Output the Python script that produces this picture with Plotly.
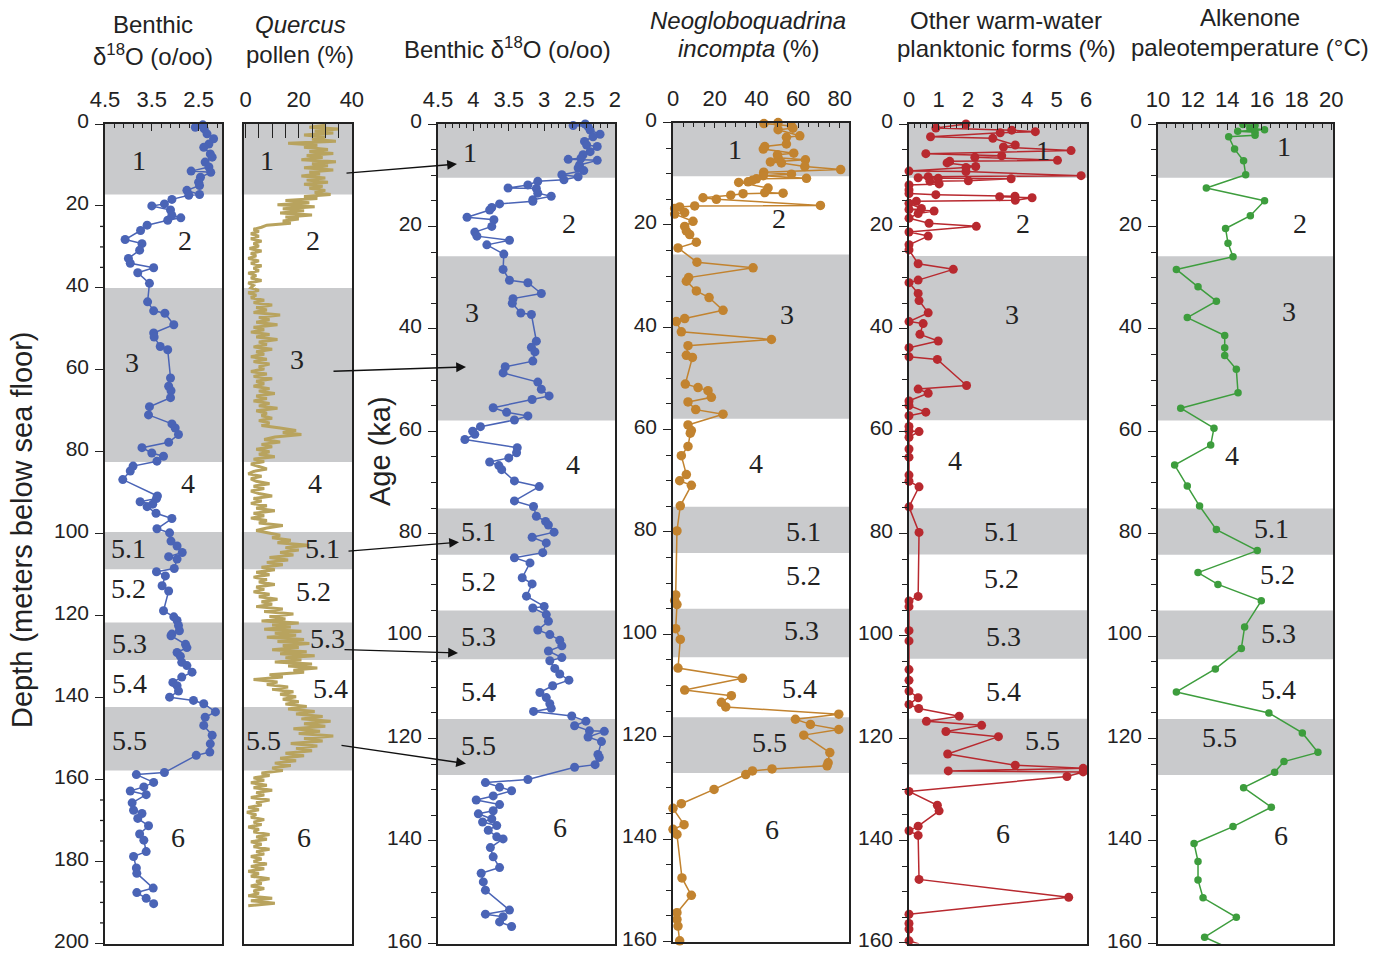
import plotly.graph_objects as go

# ---------------- data ----------------
# Benthic d18O against core depth (m below sea floor)
benthic_depth = [0.2, 0.8, 1.2, 2.4, 3.6, 4.9, 5.7, 7.3, 8.1, 9.3, 10.5, 11.5, 11.8, 13.0, 14.2, 15.0,
                 16.2, 17.2, 17.4, 18.4, 19.5, 20.0, 21.0, 22.3, 22.9, 23.5, 24.7, 26.0, 28.2, 29.2,
                 30.8, 32.8, 34.0, 35.1, 36.3, 38.9, 43.4, 45.6, 46.2, 49.0, 51.0, 52.0, 54.3, 55.1,
                 62.0, 64.0, 65.1, 66.8, 69.0, 71.0, 73.2, 74.2, 75.8, 77.7, 79.0, 80.3, 81.1, 82.3,
                 83.5, 84.7, 86.8, 90.8, 91.4, 92.2, 92.8, 93.4, 95.0, 96.3, 98.8, 99.8, 101.8, 103.0,
                 104.6, 105.6, 106.2, 108.5, 109.3, 110.3, 112.7, 114.0, 118.8, 120.3, 121.2, 122.4,
                 123.7, 124.5, 124.9, 127.0, 127.8, 129.0, 129.9, 131.4, 132.2, 133.8, 135.0, 136.3,
                 137.1, 138.4, 139.9, 140.7, 141.5, 143.5, 144.8, 146.8, 149.2, 151.3, 153.3, 154.1,
                 158.3, 158.8, 160.7, 161.8, 162.8, 163.7, 165.7, 167.5, 168.3, 169.5, 171.3, 173.3,
                 174.8, 177.6, 178.8, 181.6, 182.9, 186.5, 187.6, 189.0, 190.3]
benthic_depth_d18o = [2.41, 2.57, 2.38, 2.32, 2.18, 2.28, 2.39, 2.25, 2.21, 2.36, 2.28, 2.66, 2.24, 2.46,
                      2.50, 2.48, 2.75, 2.48, 2.71, 3.07, 3.23, 3.50, 3.10, 3.07, 2.88, 3.16, 3.60, 3.74,
                      4.07, 3.71, 3.76, 4.00, 3.96, 3.46, 3.80, 3.55, 3.59, 3.46, 3.22, 3.03, 3.46, 3.45,
                      3.32, 3.16, 3.10, 3.14, 3.09, 3.10, 3.55, 3.57, 3.07, 3.00, 2.93, 3.14, 3.71, 3.50,
                      3.25, 3.39, 3.90, 3.96, 4.12, 3.38, 3.40, 3.75, 3.48, 3.60, 3.41, 3.07, 3.39, 3.12,
                      3.09, 2.96, 2.85, 3.14, 2.96, 3.02, 3.40, 3.21, 3.28, 3.14, 3.25, 3.03, 2.96, 2.93,
                      2.91, 3.07, 3.09, 2.78, 2.75, 2.96, 2.89, 2.86, 2.75, 2.64, 2.86, 3.05, 2.96, 2.93,
                      3.12, 2.61, 2.39, 2.14, 2.36, 2.39, 2.21, 2.25, 2.26, 2.55, 3.23, 3.83, 3.46, 3.67,
                      3.96, 3.62, 3.92, 3.89, 3.71, 3.80, 3.57, 3.76, 3.67, 3.62, 3.89, 3.83, 3.82, 3.47,
                      3.82, 3.62, 3.46]

# Quercus pollen (%) against core depth
pollen_depth = [0.3, 0.8, 1.2, 1.7, 2.2, 2.7, 3.2, 3.7, 4.2, 4.7, 5.2, 5.7, 6.2, 6.7, 7.2, 7.7, 8.2, 8.7,
                9.2, 9.7, 10.2, 10.7, 11.2, 11.7, 12.2, 12.7, 13.2, 13.7, 14.2, 14.7, 15.2, 15.7, 16.2,
                16.7, 17.2, 17.7, 18.2, 18.7, 19.2, 19.7, 20.2, 20.7, 21.2, 21.7, 22.2, 22.7, 23.2,
                23.7, 24.2, 24.7, 25.2, 25.7, 26.2, 26.8, 27.4, 28.0, 28.6, 29.2, 29.8, 30.4, 31.0,
                31.6, 32.2, 32.8, 33.4, 34.0, 34.6, 35.2, 35.8, 36.4, 37.0, 37.6, 38.2, 38.8, 39.4,
                40.0, 40.6, 41.2, 41.8, 42.4, 43.0, 43.6, 44.2, 44.8, 45.4, 46.0, 46.6, 47.2, 47.8,
                48.4, 49.0, 49.6, 50.2, 50.8, 51.4, 52.0, 52.6, 53.2, 53.8, 54.4, 55.0, 55.6, 56.2,
                56.8, 57.4, 58.0, 58.6, 59.2, 59.8, 60.4, 61.0, 61.6, 62.2, 62.8, 63.4, 64.0, 64.6,
                65.2, 65.8, 66.4, 67.0, 67.6, 68.2, 68.8, 69.4, 70.0, 70.6, 71.2, 71.8, 72.4, 73.0,
                73.6, 74.2, 74.8, 75.3, 75.8, 76.4, 77.0, 77.6, 78.2, 78.8, 79.4, 80.0, 80.6, 81.2,
                81.8, 82.4, 83.0, 83.6, 84.2, 84.8, 85.4, 86.0, 86.6, 87.2, 87.8, 88.4, 89.0, 89.6,
                90.2, 90.8, 91.4, 92.0, 92.6, 93.2, 93.8, 94.4, 95.0, 95.6, 96.2, 96.8, 97.4, 98.0,
                98.6, 99.2, 99.8, 100.4, 101.0, 101.6, 102.2, 102.8, 103.4, 104.0, 104.6, 105.2,
                105.8, 106.4, 107.0, 107.6, 108.2, 108.8, 109.4, 110.0, 110.6, 111.2, 111.8, 112.4,
                113.0, 113.6, 114.2, 114.8, 115.4, 116.0, 116.6, 117.2, 117.8, 118.4, 119.0, 119.6,
                120.2, 120.8, 121.3, 121.8, 122.3, 122.8, 123.3, 123.8, 124.3, 124.8, 125.3, 125.8,
                126.3, 126.8, 127.3, 127.8, 128.3, 128.8, 129.3, 129.8, 130.3, 130.8, 131.3, 131.8,
                132.3, 132.8, 133.3, 133.8, 134.4, 135.0, 135.6, 136.2, 136.8, 137.4, 138.0, 138.6,
                139.2, 139.8, 140.4, 141.0, 141.6, 142.2, 142.8, 143.4, 144.0, 144.6, 145.2, 145.8,
                146.4, 147.0, 147.6, 148.2, 148.8, 149.4, 150.0, 150.6, 151.2, 151.8, 152.4, 153.0,
                153.6, 154.2, 154.8, 155.4, 156.0, 156.6, 157.2, 157.8, 158.4, 159.0, 159.6, 160.2,
                160.8, 161.4, 162.0, 162.6, 163.2, 163.8, 164.4, 165.0, 165.6, 166.2, 166.8, 167.4,
                168.0, 168.6, 169.2, 169.8, 170.4, 171.0, 171.6, 172.2, 172.8, 173.4, 174.0, 174.6,
                175.2, 175.8, 176.4, 177.0, 177.6, 178.2, 178.8, 179.4, 180.0, 180.6, 181.2, 181.8,
                182.4, 183.0, 183.6, 184.2, 184.8, 185.4, 186.0, 186.6, 187.2, 187.8, 188.4, 189.0,
                189.6, 190.2, 190.8]
pollen_pct = [30, 24, 35, 26, 33, 22, 30, 25, 34, 16, 27, 22, 31, 24, 33, 23, 29, 21,
              34, 25, 31, 22, 33, 24, 28, 21, 30, 23, 31, 22, 29, 24, 30,
              26, 32, 22, 27, 15, 24, 12, 26, 14, 22, 13, 25, 15, 20,
              14, 17, 8, 6, 3, 5, 2, 5, 2, 6, 3, 5, 1.5, 6,
              2, 4, 1, 5, 2, 6, 3, 5, 1, 4, 2, 6, 1, 3,
              2, 5, 1, 4, 2, 7, 3, 10, 4, 8, 3, 13, 5, 9,
              4, 12, 3, 7, 2, 9, 4, 12, 5, 8, 3, 10, 4, 7,
              2, 8, 3, 9, 5, 7, 2, 8, 3, 10, 4, 7, 3, 9,
              5, 11, 4, 8, 3, 9, 5, 12, 4, 8, 6, 10, 5, 9,
              6, 13, 19, 14, 21, 11, 7, 13, 6, 10, 4, 9, 5, 11,
              3, 7, 2, 5, 8, 3, 1, 6, 2, 4, 9, 3, 7, 2,
              5, 10, 3, 6, 2, 8, 4, 11, 3, 7, 2, 8, 5, 14,
              8, 4, 9, 13, 10, 17, 12, 24, 15, 20, 13, 18,
              9, 16, 8, 14, 6, 11, 4, 9, 3, 8, 5, 11,
              4, 7, 3, 9, 5, 12, 6, 10, 4, 14, 7, 18,
              9, 15, 6, 20, 10, 17, 7, 21, 11, 19, 8, 22,
              12, 24, 14, 20, 10, 23, 13, 26, 15, 21, 11, 25,
              16, 27, 18, 22, 9, 14, 3, 12, 8, 16, 10, 18,
              13, 19, 14, 20, 15, 23, 16, 26, 19, 29, 21, 32,
              22, 30, 18, 28, 20, 33, 22, 29, 17, 27, 19, 25,
              15, 22, 13, 19, 11, 17, 10, 14, 6, 9, 3, 7,
              2, 8, 3, 10, 4, 7, 2, 9, 4, 6, 1, 5,
              0.5, 4, 2, 7, 3, 6, 1, 5, 3, 9, 4, 8,
              2, 6, 3, 9, 4, 7, 2, 6, 3, 8, 2, 7,
              1, 5, 2, 9, 4, 6, 2, 7, 3, 5, 1, 10,
              2, 11, 1]

# Benthic d18O against age (ka)
benthic_age = [0.0, 0.3, 0.5, 1.2, 2.0, 2.5, 3.4, 4.1, 4.4, 5.4, 6.0, 6.7, 6.9, 7.1, 8.0, 8.6, 9.1, 9.9,
               10.3, 10.9, 11.2, 11.9, 12.5, 12.6, 13.5, 14.1, 14.8, 15.1, 15.6, 16.3, 16.8, 18.2,
               18.7, 20.0, 21.1, 21.9, 22.7, 23.6, 25.4, 28.4, 30.5, 31.0, 33.1, 34.1, 35.0, 36.9,
               37.2, 42.4, 43.6, 44.5, 46.3, 47.4, 48.6, 50.4, 51.8, 53.1, 53.8, 55.4, 56.3, 57.0,
               57.8, 59.1, 60.0, 60.6, 61.6, 63.2, 64.2, 65.2, 66.0, 66.7, 67.5, 69.7, 70.8, 73.6,
               74.7, 76.6, 77.6, 78.3, 79.7, 80.7, 81.8, 83.7, 84.7, 85.7, 88.6, 89.8, 92.2, 94.2,
               94.5, 95.8, 97.1, 98.8, 99.7, 100.8, 101.9, 102.9, 104.2, 104.8, 106.3, 107.4, 108.6,
               109.7, 111.0, 112.0, 113.2, 114.1, 114.7, 115.6, 116.6, 117.5, 118.5, 118.6, 119.7,
               120.6, 123.1, 123.7, 125.1, 125.6, 128.0, 128.6, 129.5, 130.2, 131.2, 132.0, 132.9,
               134.1, 134.7, 135.7, 136.3, 137.0, 137.9, 139.2, 139.6, 141.3, 143.1, 145.2, 146.3,
               148.0, 149.6, 153.5, 154.3, 154.8, 155.8, 156.7]
benthic_age_d18o = [2.42, 2.59, 2.38, 2.35, 2.21, 2.31, 2.43, 2.40, 2.25, 2.35, 2.45, 2.48, 2.66, 2.25,
                    2.50, 2.52, 2.44, 2.75, 2.52, 2.72, 3.09, 3.23, 3.51, 3.11, 3.09, 2.90, 3.16, 3.16,
                    3.63, 3.74, 3.77, 4.09, 3.71, 3.74, 3.98, 3.95, 3.49, 3.81, 3.57, 3.58, 3.49, 3.23,
                    3.04, 3.44, 3.45, 3.33, 3.18, 3.11, 3.18, 3.13, 3.16, 3.55, 3.58, 3.09, 3.04, 2.93,
                    3.17, 3.72, 3.53, 3.23, 3.42, 3.90, 4.01, 3.98, 4.12, 3.38, 3.39, 3.50, 3.77, 3.64,
                    3.60, 3.42, 3.07, 3.42, 3.15, 3.11, 2.98, 2.94, 2.86, 3.17, 2.97, 3.02, 3.42, 3.20,
                    3.31, 3.17, 3.25, 3.00, 3.16, 2.97, 2.94, 3.09, 2.92, 2.78, 2.75, 2.94, 2.75, 2.92,
                    2.85, 2.78, 2.65, 2.88, 3.06, 2.97, 2.92, 2.90, 3.15, 2.61, 2.41, 2.57, 2.36, 2.15,
                    2.38, 2.19, 2.24, 2.22, 2.28, 2.57, 3.23, 3.83, 3.63, 3.46, 3.72, 3.96, 3.63, 3.72,
                    3.93, 3.74, 3.87, 3.67, 3.79, 3.67, 3.58, 3.76, 3.72, 3.63, 3.89, 3.86, 3.83, 3.49,
                    3.83, 3.58, 3.63, 3.46]

# Neogloboquadrina incompta (%) against age
incompta_age = [0.0, 0.2, 0.7, 1.1, 1.4, 2.6, 2.9, 4.2, 4.7, 5.2, 6.0, 6.3, 6.9, 7.3, 7.7, 7.9, 8.6, 9.2,
                9.7, 10.1, 10.4, 10.9, 11.0, 11.3, 11.6, 11.7, 12.8, 13.7, 13.8, 13.9, 14.2, 14.7,
                15.0, 16.2, 16.3, 16.5, 16.8, 17.6, 17.9, 19.3, 20.3, 21.2, 21.9, 23.4, 24.5, 27.3,
                28.4, 30.3, 31.0, 32.9, 34.2, 36.7, 38.3, 38.9, 40.9, 42.4, 43.6, 45.5, 45.9, 51.1,
                51.8, 52.4, 53.7, 54.6, 56.1, 57.0, 59.1, 60.2, 60.7, 63.3, 65.1, 68.8, 70.0, 70.9,
                74.9, 79.8, 92.3, 93.4, 94.2, 98.9, 101.0, 106.6, 108.6, 110.9, 112.0, 113.3, 114.2,
                115.6, 116.6, 117.6, 118.6, 119.7, 123.1, 125.1, 125.7, 126.3, 126.7, 127.4, 130.3,
                133.1, 134.0, 137.2, 138.1, 139.1, 147.6, 151.0, 154.4, 155.7, 157.0, 159.9]
incompta_pct = [50.4, 43.6, 56.8, 57.5, 50.4, 60.8, 54.4, 54.4, 44.0, 43.3, 57.9, 50.1, 50.4, 63.5,
                46.7, 52.0, 63.2, 80.4, 43.5, 56.8, 43.3, 64.0, 40.0, 38.1, 36.0, 31.5, 45.6, 44.0,
                52.8, 33.6, 27.7, 14.4, 20.8, 70.7, 10.4, 3.2, 0.8, 5.6, 0.8, 9.6, 5.6, 6.4, 8.0,
                11.2, 2.4, 11.5, 38.4, 7.5, 6.4, 11.2, 17.3, 24.0, 5.6, 1.6, 4.0, 47.2, 7.2, 6.4,
                9.3, 5.9, 12.0, 16.8, 18.4, 7.2, 10.9, 24.0, 7.2, 8.8, 8.3, 7.2, 4.0, 6.4, 3.2, 8.8,
                3.5, 1.9, 1.3, 0.8, 1.9, 1.3, 3.5, 2.4, 33.3, 5.6, 28.0, 23.2, 25.3, 79.5, 58.7,
                65.9, 79.5, 62.7, 75.2, 74.4, 73.9, 47.5, 38.1, 34.9, 19.7, 4.0, 0.0, 5.3, 0.0, 1.9,
                4.3, 8.8, 1.9, 1.9, 2.4, 3.2]

# Other warm-water planktonic forms (%) against age
warm_age = [0.0, 0.8, 1.2, 1.5, 1.7, 2.5, 2.8, 4.1, 4.5, 5.2, 5.8, 6.2, 6.5, 7.1, 7.3, 7.6, 8.3, 8.5,
            9.2, 9.3, 10.1, 10.3, 10.5, 10.6, 10.7, 11.1, 11.2, 11.7, 11.9, 12.9, 13.6, 13.8, 14.1,
            14.2, 14.4, 14.9, 15.1, 15.5, 16.5, 16.7, 17.0, 17.5, 18.4, 19.4, 20.0, 21.1, 21.9, 23.6,
            24.6, 27.3, 28.4, 30.5, 31.0, 33.1, 34.5, 36.9, 38.6, 39.0, 41.1, 42.4, 43.7, 45.5, 46.0,
            51.1, 51.8, 52.6, 54.1, 55.0, 56.3, 57.0, 59.1, 60.0, 60.1, 61.2, 63.5, 65.1, 68.6, 69.8,
            70.9, 74.8, 79.8, 92.3, 93.2, 94.3, 99.0, 101.0, 106.6, 108.7, 110.8, 112.1, 113.4,
            114.2, 115.7, 116.7, 117.5, 118.7, 119.7, 123.1, 125.3, 125.9, 126.4, 126.6, 127.5,
            130.4, 133.1, 134.2, 137.2, 138.1, 139.0, 147.6, 151.1, 154.4, 156.2, 157.3, 159.6, 160.2]
warm_pct = [1.93, 0.91, 3.48, 4.28, 3.09, 0.73, 2.84, 3.60, 3.20, 5.49, 0.57, 3.14, 2.23, 5.03, 1.38,
            1.29, 2.26, 1.93, 0.0, 1.93, 5.83, 0.65, 0.31, 0.99, 3.46, 2.01, 0.71, 1.02, 0.0, 0.0, 0.0,
            0.91, 3.59, 3.07, 4.17, 3.60, 0.25, 0.0, 0.42, 0.0, 0.85, 0.31, 0.0, 0.68, 2.28, 0.0, 0.65,
            0.0, 0.0, 0.31, 1.50, 0.31, 0.0, 0.31, 0.34, 0.65, 0.0, 0.48, 0.37, 0.99, 0.0, 0.0, 0.96,
            1.95, 0.31, 0.65, 0.0, 0.0, 0.57, 0.0, 0.0, 0.0, 0.34, 0.0, 0.0, 0.0, 0.0, 0.0, 0.34, 0.0,
            0.34, 0.31, 0.0, 0.0, 0.0, 0.0, 0.0, 0.0, 0.0, 0.31, 0.0, 0.33, 1.70, 0.59, 2.46, 1.25,
            3.03, 1.31, 3.60, 5.90, 1.33, 5.90, 5.35, 0.0, 0.96, 1.02, 0.31, 0.0, 0.31, 0.34, 5.41,
            0.0, 0.0, 0.0, 0.0, 0.34]

# Alkenone sea-surface paleotemperature (deg C) against age
alkenone_age = [0.1, 0.3, 0.8, 1.1, 1.4, 1.6, 2.2, 2.5, 4.9, 7.2, 9.9, 12.5, 15.0, 17.9, 20.4, 23.3,
                25.9, 28.4, 31.8, 34.6, 37.8, 41.3, 43.7, 45.2, 47.9, 52.5, 55.5, 59.4, 62.7, 66.6,
                70.7, 74.6, 79.2, 83.3, 87.6, 89.9, 93.1, 98.2, 102.4, 106.4, 110.9, 115.0, 118.9,
                122.7, 124.5, 126.6, 129.6, 133.4, 137.2, 140.5, 144.0, 147.6, 151.1, 154.9, 158.8,
                162.0]
alkenone_temp = [14.9, 15.6, 15.3, 16.15, 14.6, 15.6, 15.6, 14.08, 14.42, 14.94, 15.06, 12.79, 16.15,
                 15.33, 13.9, 14.04, 14.33, 11.06, 12.31, 13.37, 11.69, 13.85, 13.85, 13.85, 14.52,
                 14.62, 11.31, 13.23, 13.04, 10.96, 11.69, 12.4, 13.37, 15.73, 12.31, 13.46, 15.96,
                 15.0, 14.81, 13.31, 11.06, 16.4, 18.33, 19.23, 17.27, 16.73, 14.94, 16.54, 14.33,
                 12.08, 12.31, 12.31, 12.6, 14.52, 12.69, 14.8]

# Marine isotope stages and their shaded (odd / warm) intervals
stage_names = ["1", "2", "3", "4", "5.1", "5.2", "5.3", "5.4", "5.5", "6"]
depth_band_top = [0.0, 40.0, 99.6, 121.7, 142.3]
depth_band_bottom = [17.2, 82.5, 108.7, 130.8, 157.8]
age_band_top = [0.0, 25.8, 75.1, 95.0, 116.2]
age_band_bottom = [10.5, 57.9, 84.1, 104.5, 127.1]

# Depth-to-age tie points shown as arrows
tie_depth = [12.0, 60.3, 104.2, 128.2, 151.5]
tie_age = [7.8, 47.4, 81.6, 103.2, 124.8]

# ---------------- layout helpers ----------------
W, H = 1387, 954
SANS = "Liberation Sans, Arial, Helvetica, sans-serif"
SERIF = "Liberation Serif, Times New Roman, serif"
INK = "#222222"
BAND = "#c9cacc"

# panel boxes in pixels: left, right, top, bottom
boxes = {
    1: (105, 222, 124, 944),
    2: (244, 352, 124, 944),
    3: (438, 615, 124, 944),
    4: (673, 849, 122.5, 942),
    5: (909, 1087, 124, 943.5),
    6: (1158, 1333, 124, 944),
}


def xdom(i):
    l, r, t, b = boxes[i]
    return [l / W, r / W]


def ydom(i):
    l, r, t, b = boxes[i]
    return [1 - b / H, 1 - t / H]


fig = go.Figure()

blue = "#4a64b6"
tan = "#b8a35e"
orange = "#c2832f"
red = "#b8292f"
green = "#3d9d3d"

fig.add_trace(go.Scatter(x=benthic_depth_d18o, y=benthic_depth, xaxis="x", yaxis="y",
                         mode="lines+markers", line=dict(color=blue, width=1.5),
                         marker=dict(color=blue, size=9), cliponaxis=False))
fig.add_trace(go.Scatter(x=pollen_pct, y=pollen_depth, xaxis="x2", yaxis="y2",
                         mode="lines", line=dict(color=tan, width=3.0), cliponaxis=False))
fig.add_trace(go.Scatter(x=benthic_age_d18o, y=benthic_age, xaxis="x3", yaxis="y3",
                         mode="lines+markers", line=dict(color=blue, width=1.5),
                         marker=dict(color=blue, size=9), cliponaxis=False))
fig.add_trace(go.Scatter(x=incompta_pct, y=incompta_age, xaxis="x4", yaxis="y4",
                         mode="lines+markers", line=dict(color=orange, width=1.5),
                         marker=dict(color=orange, size=9.5), cliponaxis=False))
fig.add_trace(go.Scatter(x=warm_pct, y=warm_age, xaxis="x5", yaxis="y5",
                         mode="lines+markers", line=dict(color=red, width=1.5),
                         marker=dict(color=red, size=9), cliponaxis=False))
fig.add_trace(go.Scatter(x=alkenone_temp, y=alkenone_age, xaxis="x6", yaxis="y6",
                         mode="lines+markers", line=dict(color=green, width=1.5),
                         marker=dict(color=green, size=7.5), cliponaxis=True))

common_axis = dict(showline=True, mirror=True, linecolor=INK, linewidth=1.6, showgrid=False,
                   zeroline=False, automargin=False, ticklabeloverflow="allow",
                   tickfont=dict(family=SANS, size=21, color=INK), tickcolor=INK)

x_specs = {
    1: dict(range=[4.5, 2.0], tick0=4.5, dtick=1, ticklen=7,
            minor=dict(tick0=4.5, dtick=0.2, ticks="inside", ticklen=4, tickcolor=INK)),
    2: dict(range=[-0.6, 40.05], tick0=0, dtick=20, ticklen=14,
            minor=dict(tick0=0, dtick=5, ticks="inside", ticklen=14, tickcolor=INK)),
    3: dict(range=[4.5, 1.999], tick0=4.5, dtick=0.5, ticklen=7,
            minor=dict(tick0=4.5, dtick=0.1, ticks="inside", ticklen=4, tickcolor=INK)),
    4: dict(range=[0, 84.4], tick0=0, dtick=20, ticklen=6,
            minor=dict(tick0=0, dtick=5, ticks="inside", ticklen=5, tickcolor=INK)),
    5: dict(range=[0, 6.03], tick0=0, dtick=1, ticklen=6,
            minor=dict(tick0=0, dtick=0.2, ticks="inside", ticklen=4, tickcolor=INK)),
    6: dict(range=[10, 20.1], tick0=10, dtick=2, ticklen=6,
            minor=dict(tick0=10, dtick=0.5, ticks="inside", ticklen=4, tickcolor=INK)),
}

layout_axes = {}
for i in range(1, 7):
    xs = dict(common_axis)
    xs.update(x_specs[i])
    xs.update(domain=xdom(i), anchor=f"y{i}", side="top", ticks="inside",
              ticklabelstandoff=6, tickfont=dict(family=SANS, size=22, color=INK))
    ys = dict(common_axis)
    yr = [200.15, 0] if i <= 2 else [160.12, 0]
    ys.update(domain=ydom(i), anchor=f"x{i}", range=yr, tick0=0, dtick=20,
              ticks="outside", ticklen=8, ticklabelstandoff=2, ticklabelshift=3)
    if i >= 3:
        ys.update(minor=dict(dtick=5, ticks="outside", ticklen=5, tickcolor=INK))
    if i == 2:
        ys.update(ticks="", showticklabels=False)
    key = "" if i == 1 else str(i)
    layout_axes[f"xaxis{key}"] = xs
    layout_axes[f"yaxis{key}"] = ys

fig.update_layout(width=W, height=H, margin=dict(l=0, r=0, t=0, b=0, autoexpand=False),
                  paper_bgcolor="white", plot_bgcolor="white", showlegend=False,
                  **layout_axes)

# shaded stage intervals
shapes = []
for i in range(1, 7):
    xr = "x domain" if i == 1 else f"x{i} domain"
    yr = "y" if i == 1 else f"y{i}"
    tops, bots = (depth_band_top, depth_band_bottom) if i <= 2 else (age_band_top, age_band_bottom)
    x0 = -0.02 if i == 2 else 0.0
    for t, b in zip(tops, bots):
        shapes.append(dict(type="rect", xref=xr, yref=yr, x0=x0, x1=1, y0=t, y1=b,
                           fillcolor=BAND, line=dict(width=0), layer="below"))

# short depth ticks drawn only on part of the depth scale
for d in [25, 30, 35, 165, 170, 175, 185, 190, 195]:
    shapes.append(dict(type="line", xref="x domain", yref="y", x0=-5 / 117, x1=0, y0=d, y1=d,
                       line=dict(color=INK, width=1.3)))
fig.update_layout(shapes=shapes)

annotations = []

# stage labels: (x fraction of panel width, vertical position in panel units)
stage_pos = {
    1: [(0.29, 8.8), (0.68, 28.5), (0.23, 58.2), (0.71, 87.8), (0.20, 103.6), (0.20, 113.4),
        (0.21, 126.8), (0.21, 136.5), (0.21, 150.4), (0.62, 174.2)],
    2: [(0.21, 8.8), (0.64, 28.5), (0.49, 57.4), (0.66, 87.8), (0.73, 103.6), (0.64, 114.1),
        (0.77, 125.5), (0.80, 137.7), (0.18, 150.4), (0.56, 174.2)],
    3: [(0.18, 5.5), (0.74, 19.5), (0.19, 36.8), (0.76, 66.4), (0.23, 79.6), (0.23, 89.3),
        (0.23, 100.0), (0.23, 110.8), (0.23, 121.3), (0.69, 137.4)],
    4: [(0.35, 5.3), (0.60, 18.8), (0.65, 37.5), (0.47, 66.7), (0.74, 80.0), (0.74, 88.6),
        (0.73, 99.3), (0.72, 110.6), (0.55, 121.1), (0.56, 138.1)],
    5: [(0.75, 5.1), (0.64, 19.5), (0.58, 37.2), (0.26, 65.7), (0.52, 79.7), (0.52, 88.9),
        (0.53, 100.2), (0.53, 110.9), (0.75, 120.5), (0.53, 138.6)],
    6: [(0.72, 4.3), (0.81, 19.5), (0.75, 36.6), (0.42, 64.8), (0.65, 79.0), (0.68, 88.0),
        (0.69, 99.5), (0.69, 110.4), (0.35, 119.8), (0.70, 139.0)],
}
for i in range(1, 7):
    xr = "x domain" if i == 1 else f"x{i} domain"
    yr = "y" if i == 1 else f"y{i}"
    for name, (fx, yv) in zip(stage_names, stage_pos[i]):
        annotations.append(dict(text=name, xref=xr, yref=yr, x=fx, y=yv, showarrow=False,
                                xanchor="center", yanchor="middle",
                                font=dict(family=SERIF, size=28, color=INK)))


def px_to_paper(px, py):
    return px / W, 1 - py / H


# column headings
headings = [
    ("Benthic", 153, 25), ("δ<sup>18</sup>O (o/oo)", 153, 55),
    ("<i>Quercus</i>", 300, 25), ("pollen (%)", 300, 55),
    ("Benthic δ<sup>18</sup>O (o/oo)", 507, 48),
    ("<i>Neogloboquadrina</i>", 748, 20), ("<i>incompta</i> (%)", 748, 49),
    ("Other warm-water", 1006, 20), ("planktonic forms (%)", 1006, 49),
    ("Alkenone", 1250, 18), ("paleotemperature (°C)", 1250, 47),
]
for txt, px, py in headings:
    x, y = px_to_paper(px, py)
    annotations.append(dict(text=txt, xref="paper", yref="paper", x=x, y=y, showarrow=False,
                            xanchor="center", yanchor="middle",
                            font=dict(family=SANS, size=24, color=INK)))

# vertical axis titles
for txt, px, py in [("Depth (meters below sea floor)", 22, 530), ("Age (ka)", 380, 451)]:
    x, y = px_to_paper(px, py)
    annotations.append(dict(text=txt, xref="paper", yref="paper", x=x, y=y, showarrow=False,
                            textangle=-90, xanchor="center", yanchor="middle",
                            font=dict(family=SANS, size=29, color=INK)))

# tie-point arrows from the depth scale to the age scale
tail_x = [345, 332, 347, 343, 340]
head_x = [457, 466, 459, 458, 466]
l2, r2, t2, b2 = boxes[2]
l3, r3, t3, b3 = boxes[3]
for d, a, tx, hx in zip(tie_depth, tie_age, tail_x, head_x):
    ty = t2 + (b2 - t2) * d / 200.0
    hy = t3 + (b3 - t3) * a / 160.0
    x, y = px_to_paper(hx, hy)
    annotations.append(dict(text="", xref="paper", yref="paper", x=x, y=y, showarrow=True,
                            ax=tx - hx, ay=ty - hy, axref="pixel", ayref="pixel",
                            arrowhead=2, arrowsize=1.4, arrowwidth=1.4, arrowcolor="#111111",
                            standoff=0))

fig.update_layout(annotations=annotations)

fig.write_html("out.html")
